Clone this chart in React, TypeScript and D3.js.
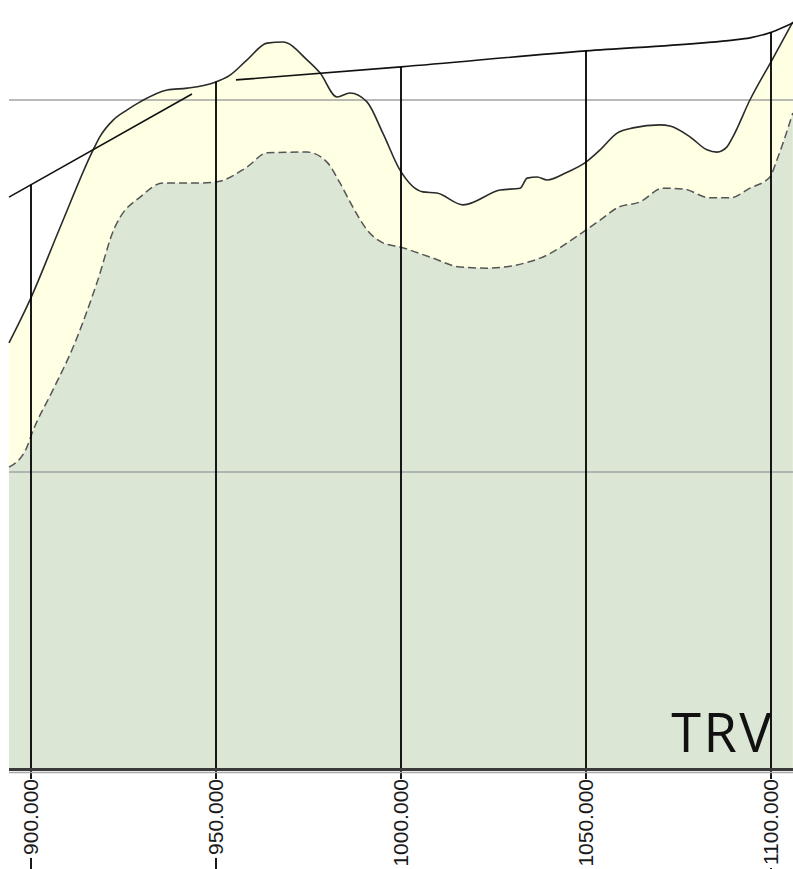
import React, { useEffect, useRef } from 'react'
import * as d3 from 'd3'

// chainage ticks along the profile
const stationTicks = [900, 950, 1000, 1050, 1100]
// horizontal reference levels
const gridLevels = [580, 590]
const profileLabel = 'TRV'

// existing ground (solid line)
const groundStations = [894.05, 899.7, 907.8, 916.8, 918.6, 922.2, 925.9, 929.5, 936.8, 942.2, 949.2, 953.8, 958.4, 963.8, 968.1, 974.6, 978.1, 982.7, 986.2, 990.8, 995.1, 999.7, 1005.9, 1009.7, 1016.8, 1026.8, 1032.2, 1034.1, 1036.8, 1039.5, 1044.9, 1049.7, 1053.8, 1058.4, 1062.7, 1070.0, 1072.7, 1078.1, 1082.7, 1085.4, 1088.1, 1089.7, 1094.3, 1100.3, 1105.9]
const groundLevels = [583.47, 584.62, 586.56, 588.66, 589.01, 589.46, 589.73, 589.95, 590.27, 590.32, 590.46, 590.67, 591.08, 591.53, 591.56, 591.08, 590.73, 590.08, 590.19, 589.95, 589.11, 588.12, 587.53, 587.5, 587.18, 587.58, 587.63, 587.9, 587.93, 587.85, 588.06, 588.31, 588.66, 589.11, 589.25, 589.33, 589.3, 589.01, 588.66, 588.6, 588.74, 589.01, 590.0, 591.08, 592.1]

// top of the lower layer (dashed line)
const layerStations = [894.05, 898.9, 900.3, 905.9, 911.4, 917.8, 922.7, 924.1, 929.5, 935.7, 945.7, 950.3, 958.4, 963.8, 974.6, 980.0, 983.5, 987.0, 990.8, 995.1, 999.7, 1008.6, 1015.9, 1023.2, 1037.6, 1049.2, 1053.8, 1058.4, 1064.6, 1070.8, 1076.2, 1083.5, 1088.9, 1094.3, 1099.7, 1101.6, 1105.9]
const layerLevels = [580.13, 580.67, 581.05, 582.2, 583.36, 585.08, 586.59, 586.85, 587.39, 587.77, 587.77, 587.8, 588.2, 588.58, 588.6, 588.33, 587.77, 587.12, 586.51, 586.16, 586.05, 585.75, 585.51, 585.48, 585.75, 586.45, 586.77, 587.1, 587.26, 587.63, 587.61, 587.37, 587.37, 587.63, 587.93, 588.39, 589.65]

// design grade line, null marks the break
const designStations = [894.05, 943.5, 949.5, 955.4, 1000, 1050, 1080.8, 1089.7, 1094.3, 1100.3, 1105.9]
const designLevels = [587.39, 590.16, null, 590.54, 590.89, 591.32, 591.53, 591.61, 591.67, 591.83, 592.07]

export default function App() {
  const ref = useRef<SVGSVGElement>(null)

  useEffect(() => {
    const svg = d3.select(ref.current)
    svg.selectAll('*').remove()

    const left = 9
    const right = 793
    const bottom = 768
    const x = d3.scaleLinear().domain([900, 1100]).range([31, 771])
    const y = d3.scaleLinear().domain([580, 590]).range([472, 100])

    const ground = groundStations.map((s, i) => [s, groundLevels[i]])
    const layer = layerStations.map((s, i) => [s, layerLevels[i]])
    const design = designStations.map((s, i) => [s, designLevels[i]])

    const area = d3.area<any>()
      .x(d => x(d[0]))
      .y0(bottom)
      .y1(d => y(d[1]))
      .curve(d3.curveMonotoneX)
    const line = d3.line<any>()
      .defined(d => d[1] != null)
      .x(d => x(d[0]))
      .y(d => y(d[1]))
      .curve(d3.curveMonotoneX)

    svg.append('path').attr('d', area(ground)).attr('fill', '#ffffe4')
    svg.append('path').attr('d', area(layer)).attr('fill', '#dce6d5')

    svg.selectAll('.grid')
      .data(gridLevels)
      .enter()
      .append('line')
      .attr('x1', left).attr('x2', right)
      .attr('y1', d => y(d)).attr('y2', d => y(d))
      .attr('stroke', '#a3a3a3')
      .attr('stroke-width', 1.5)

    svg.append('path').attr('d', line(layer))
      .attr('fill', 'none').attr('stroke', '#555')
      .attr('stroke-width', 1.5).attr('stroke-dasharray', '8,4')
    svg.append('path').attr('d', line(ground))
      .attr('fill', 'none').attr('stroke', '#2a2a2a').attr('stroke-width', 1.6)
    svg.append('path').attr('d', line(design))
      .attr('fill', 'none').attr('stroke', '#111').attr('stroke-width', 1.6)

    // piecewise interpolation to find where each station line starts
    const defDesign = design.filter(d => d[1] != null)
    const designAt = d3.scaleLinear().domain(defDesign.map(d => d[0])).range(defDesign.map(d => d[1]))
    const groundAt = d3.scaleLinear().domain(groundStations).range(groundLevels)

    const ticks = svg.selectAll('.tick')
      .data(stationTicks)
      .enter()
      .append('g')

    ticks.append('line')
      .attr('x1', d => x(d)).attr('x2', d => x(d))
      .attr('y1', d => y(Math.max(designAt(d), groundAt(d))))
      .attr('y2', 869)
      .attr('stroke', '#000')
      .attr('stroke-width', 1.8)

    // bottom axis
    svg.append('line').attr('x1', left).attr('x2', right)
      .attr('y1', bottom + 1.5).attr('y2', bottom + 1.5)
      .attr('stroke', '#3a3a3a').attr('stroke-width', 3)
    svg.append('line').attr('x1', left).attr('x2', right)
      .attr('y1', bottom + 4.5).attr('y2', bottom + 4.5)
      .attr('stroke', '#aaa').attr('stroke-width', 1.5)

    ticks.each(function (d) {
      const g = d3.select(this).append('g')
        .attr('transform', `translate(${x(d)}, 779) rotate(-90)`)
      const t = g.append('text')
        .attr('text-anchor', 'end')
        .attr('dy', '0.35em')
        .style('font-family', '"Liberation Sans", Arial, sans-serif')
        .style('font-size', '21px')
        .attr('fill', '#1a1a1a')
        .text(d3.format('.3f')(d))
      const bb = (t.node() as SVGTextElement).getBBox()
      g.insert('rect', 'text')
        .attr('x', bb.x - 3).attr('y', bb.y)
        .attr('width', bb.width + 3).attr('height', bb.height)
        .attr('fill', '#fff')
    })

    svg.append('text')
      .attr('x', 774).attr('y', 752)
      .attr('text-anchor', 'end')
      .style('font-family', '"Open Sans", sans-serif')
      .style('font-size', '54px')
      .style('letter-spacing', '2.5px')
      .attr('fill', '#111')
      .text(profileLabel)
  }, [])

  return (
    <svg ref={ref} width={793} height={869}
      style={{ position: 'absolute', left: 0, top: 0, background: '#fff' }} />
  )
}
